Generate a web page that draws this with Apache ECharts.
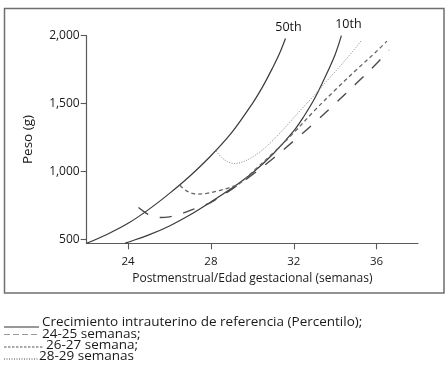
<!DOCTYPE html>
<html><head><meta charset="utf-8">
<script src="https://cdn.jsdelivr.net/npm/echarts@6/dist/echarts.min.js"></script>
<style>html,body{margin:0;padding:0;background:#fff}#c{width:446px;height:371px}</style>
</head><body><div id="c"></div>
<script>
// ---- data ----
const xTicks = [24, 28, 32, 36];
const yTicks = [500, 1000, 1500, 2000];

const p50Weeks  = [22, 23, 24, 25, 26, 27, 28, 29, 30, 30.5, 31, 31.3, 31.6];
const p50Weight = [470, 537, 617, 720, 838, 968, 1115, 1285, 1500, 1625, 1770, 1865, 1980];

const p10Weeks  = [23.85, 24, 25, 26, 27, 28, 29, 30, 31, 32, 32.5, 33, 33.5, 34, 34.3];
const p10Weight = [470, 478, 532, 598, 680, 775, 875, 988, 1128, 1298, 1408, 1535, 1690, 1862, 2000];

const g2425Weeks  = [24.5, 24.8, 25.1, 25.5, 26, 26.5, 27, 27.5, 28, 29, 30, 31, 32, 33, 34, 35, 36, 36.6];
const g2425Weight = [734, 700, 672, 660, 665, 685, 712, 740, 772, 868, 975, 1095, 1225, 1358, 1500, 1645, 1795, 1895];

const g2627Weeks  = [26.5, 26.8, 27.3, 27.8, 28.4, 28.9, 29.4, 30, 31, 32, 33, 34, 35, 36, 36.5];
const g2627Weight = [898, 858, 833, 838, 858, 880, 912, 995, 1135, 1285, 1448, 1600, 1745, 1885, 1960];

const g2829Weeks  = [28.25, 28.5, 28.8, 29.15, 29.5, 30, 30.5, 31, 31.5, 32, 32.5, 33, 33.5, 34, 34.5, 35, 35.25];
const g2829Weight = [1150, 1105, 1072, 1058, 1068, 1105, 1160, 1230, 1310, 1395, 1480, 1562, 1650, 1735, 1822, 1912, 1962];

const percentileLabels = ['50th', '10th'];
const legendLabels = [
  'Crecimiento intrauterino de referencia (Percentilo);',
  '24-25 semanas;',
  '26-27 semana;',
  '28-29 semanas'
];
const xTitle = 'Postmenstrual/Edad gestacional (semanas)';
const yTitle = 'Peso (g)';

// ---- chart ----
const FONT = '"Open Sans", "DejaVu Sans", sans-serif';
const zip = (xs, ys) => xs.map((x, i) => [x, ys[i]]);
const fmt = v => String(v).replace(/\B(?=(\d{3})+(?!\d))/g, ',');

function endMark(xs, ys, text, off) {
  return {
    silent: true,
    symbol: 'circle', symbolSize: 1,
    itemStyle: {color: 'rgba(0,0,0,0)'},
    data: [{coord: [xs[xs.length - 1], ys[ys.length - 1]]}],
    label: {show: true, position: 'top', distance: 4, formatter: text, offset: off,
            fontSize: 12.5, color: '#111', fontFamily: FONT}
  };
}

const chart = echarts.init(document.getElementById('c'), null, {renderer: 'canvas'});
chart.setOption({
  animation: false,
  backgroundColor: '#fff',
  textStyle: {fontFamily: FONT},
  grid: {left: 86.7, right: 28, top: 35.7, bottom: 127.7},
  xAxis: {
    type: 'value', min: 22, max: 38,
    name: xTitle, nameLocation: 'middle', nameGap: 26,
    nameTextStyle: {fontSize: 12, color: '#1a1a1a', fontFamily: FONT},
    axisLine: {lineStyle: {color: '#5a5a5a', width: 1.2}},
    axisTick: {customValues: xTicks, length: 6, lineStyle: {color: '#5a5a5a', width: 1.1}},
    axisLabel: {customValues: xTicks, fontSize: 11.5, color: '#1a1a1a', margin: 12, fontFamily: FONT},
    splitLine: {show: false}
  },
  yAxis: {
    type: 'value', min: 470, max: 2000,
    name: yTitle, nameLocation: 'middle', nameGap: 52,
    nameTextStyle: {fontSize: 13.5, color: '#1a1a1a', fontFamily: FONT},
    axisLine: {show: true, lineStyle: {color: '#5a5a5a', width: 1.2}},
    axisTick: {show: true, customValues: yTicks, length: 6, lineStyle: {color: '#5a5a5a', width: 1.1}},
    axisLabel: {customValues: yTicks, fontSize: 12, color: '#1a1a1a', margin: 7, formatter: fmt, fontFamily: FONT},
    splitLine: {show: false}
  },
  series: [
    {type: 'line', name: '50th', data: zip(p50Weeks, p50Weight), smooth: 0.35, showSymbol: false, silent: true,
     lineStyle: {color: '#3a3a3a', width: 1.2}, markPoint: endMark(p50Weeks, p50Weight, percentileLabels[0], [3, 0])},
    {type: 'line', name: '10th', data: zip(p10Weeks, p10Weight), smooth: 0.35, showSymbol: false, silent: true,
     lineStyle: {color: '#3a3a3a', width: 1.2}, markPoint: endMark(p10Weeks, p10Weight, percentileLabels[1], [7, 0])},
    {type: 'line', name: legendLabels[1], data: zip(g2425Weeks, g2425Weight), smooth: 0.35, showSymbol: false, silent: true,
     lineStyle: {color: '#4a4a4a', width: 1.4, type: [12, 12]}},
    {type: 'line', name: legendLabels[2], data: zip(g2627Weeks, g2627Weight), smooth: 0.35, showSymbol: false, silent: true,
     lineStyle: {color: '#666', width: 1.3, type: [4, 3]}},
    {type: 'line', name: legendLabels[3], data: zip(g2829Weeks, g2829Weight), smooth: 0.35, showSymbol: false, silent: true,
     lineStyle: {color: '#888', width: 1, type: [1, 1.5]}}
  ],
  graphic: [
    {type: 'rect', shape: {x: 4.5, y: 8.5, width: 439.5, height: 284.5}, style: {fill: 'none', stroke: '#6f6f6f', lineWidth: 1.5}, silent: true},
    {type: 'line', shape: {x1: 4, y1: 327, x2: 39, y2: 327}, style: {stroke: '#333', lineWidth: 1}},
    {type: 'line', shape: {x1: 4, y1: 334.5, x2: 39, y2: 334.5}, style: {stroke: '#999', lineWidth: 1, lineDash: [6, 3]}},
    {type: 'line', shape: {x1: 4, y1: 347, x2: 43, y2: 347}, style: {stroke: '#555', lineWidth: 1, lineDash: [2.5, 1.5]}},
    {type: 'line', shape: {x1: 4, y1: 359, x2: 38, y2: 359}, style: {stroke: '#444', lineWidth: 1, lineDash: [1, 1.5]}},
    {type: 'text', x: 42, y: 322.5, style: {text: legendLabels[0], fill: '#1a1a1a', font: '13.5px ' + FONT, verticalAlign: 'middle'}},
    {type: 'text', x: 42, y: 334, style: {text: legendLabels[1], fill: '#1a1a1a', font: '13.5px ' + FONT, verticalAlign: 'middle'}},
    {type: 'text', x: 46, y: 345.3, style: {text: legendLabels[2], fill: '#1a1a1a', font: '13.5px ' + FONT, verticalAlign: 'middle'}},
    {type: 'text', x: 39, y: 356.5, style: {text: legendLabels[3], fill: '#1a1a1a', font: '13.5px ' + FONT, verticalAlign: 'middle'}}
  ]
});
</script>
</body></html>
